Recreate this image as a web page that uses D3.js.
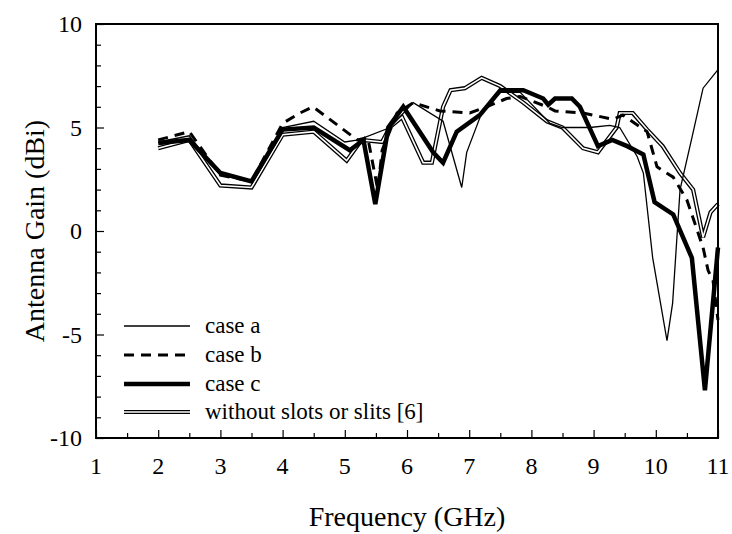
<!DOCTYPE html>
<html>
<head>
<meta charset="utf-8">
<script src="https://cdn.jsdelivr.net/npm/d3@7"></script>
<style>
  body { margin: 0; background: #fff; }
</style>
</head>
<body>
<div id="chart"></div>
<script>
// series data (frequency in GHz, gain in dBi)
var freqA = [2, 2.5, 3, 3.5, 4, 4.5, 5, 5.22, 5.73, 6.1, 6.58, 6.88, 6.96, 7.2, 7.5, 7.82, 8.3, 8.5, 8.94, 9.26, 9.42, 9.7, 9.8, 9.95, 10.18, 10.27, 10.39, 10.58, 10.76, 11];
var gainA = [4.3, 4.6, 2.7, 2.4, 5.0, 5.3, 4.3, 4.4, 5.0, 6.2, 5.3, 2.1, 3.8, 5.7, 6.7, 6.7, 5.2, 5.0, 5.0, 5.1, 5.0, 3.6, 2.8, -1.3, -5.3, -3.5, 2.0, 4.5, 6.9, 7.8];

var freqB = [2, 2.5, 3, 3.5, 4, 4.28, 4.49, 5.2, 5.37, 5.53, 5.6, 5.84, 6.1, 6.53, 7.01, 7.28, 7.6, 7.82, 8.25, 8.38, 8.83, 9.31, 9.47, 9.86, 10.02, 10.28, 10.5, 10.76, 10.84, 10.92, 11];
var gainB = [4.4, 4.8, 2.7, 2.4, 5.2, 5.7, 6.0, 4.4, 4.5, 2.0, 3.9, 5.7, 6.2, 5.8, 5.7, 6.0, 6.4, 6.5, 6.0, 5.8, 5.7, 5.4, 5.6, 4.8, 3.1, 2.6, 1.5, -0.8, -1.9, -2.4, -4.3];

var freqC = [2, 2.5, 3, 3.5, 4, 4.5, 5.08, 5.3, 5.49, 5.7, 5.94, 6.42, 6.58, 6.8, 7.17, 7.5, 7.87, 8.19, 8.27, 8.38, 8.65, 8.78, 9.07, 9.3, 9.54, 9.8, 9.98, 10.28, 10.58, 10.79, 11];
var gainC = [4.25, 4.4, 2.8, 2.4, 4.9, 5.0, 3.9, 4.4, 1.3, 5.0, 6.0, 3.8, 3.3, 4.8, 5.6, 6.8, 6.8, 6.4, 6.1, 6.4, 6.4, 6.0, 4.1, 4.4, 4.1, 3.7, 1.4, 0.8, -1.3, -7.7, -0.8];

var freqD = [2, 2.5, 3, 3.5, 4, 4.5, 5.03, 5.27, 5.6, 5.72, 5.92, 6.26, 6.4, 6.58, 6.7, 6.93, 7.2, 7.5, 7.87, 8.25, 8.5, 8.83, 9.07, 9.37, 9.42, 9.63, 9.86, 10.11, 10.39, 10.6, 10.76, 10.88, 11];
var gainD = [4.0, 4.4, 2.2, 2.1, 4.65, 4.8, 3.4, 4.4, 4.3, 5.0, 5.5, 3.3, 3.3, 6.0, 6.8, 6.9, 7.4, 7.0, 6.2, 5.3, 5.0, 4.0, 3.8, 5.0, 5.7, 5.7, 4.9, 4.1, 2.8, 2.0, -0.3, 0.9, 1.3];

var legendLabels = ["case a", "case b", "case c", "without slots or slits [6]"];
var xTicks = [1, 2, 3, 4, 5, 6, 7, 8, 9, 10, 11];
var yTicks = [-10, -5, 0, 5, 10];

var width = 732, height = 534;
var margin = { left: 96, right: 14, top: 24, bottom: 96 };
var serif = "'Liberation Serif', 'Times New Roman', Times, serif";

var svg = d3.select('#chart').append('svg')
    .attr('width', width)
    .attr('height', height)
    .attr('font-family', serif);

var x = d3.scaleLinear().domain([1, 11]).range([margin.left, width - margin.right]);
var y = d3.scaleLinear().domain([-10, 10]).range([height - margin.bottom, margin.top]);

var line = d3.line()
    .x(function(d) { return x(d[0]); })
    .y(function(d) { return y(d[1]); });

function zip(f, g) {
    return f.map(function(v, i) { return [v, g[i]]; });
}

var plot = svg.append('g');

// without slots: double line (black with white core)
plot.append('path').datum(zip(freqD, gainD))
    .attr('d', line).attr('fill', 'none')
    .attr('stroke', '#000').attr('stroke-width', 4.2);
plot.append('path').datum(zip(freqD, gainD))
    .attr('d', line).attr('fill', 'none')
    .attr('stroke', '#fff').attr('stroke-width', 1.6);

// case a
plot.append('path').datum(zip(freqA, gainA))
    .attr('d', line).attr('fill', 'none')
    .attr('stroke', '#000').attr('stroke-width', 1.3);

// case b
plot.append('path').datum(zip(freqB, gainB))
    .attr('d', line).attr('fill', 'none')
    .attr('stroke', '#000').attr('stroke-width', 3)
    .attr('stroke-dasharray', '10,7');

// case c
plot.append('path').datum(zip(freqC, gainC))
    .attr('d', line).attr('fill', 'none')
    .attr('stroke', '#000').attr('stroke-width', 4.5);

// frame
svg.append('rect')
    .attr('x', x(1)).attr('y', y(10))
    .attr('width', x(11) - x(1)).attr('height', y(-10) - y(10))
    .attr('fill', 'none').attr('stroke', '#000').attr('stroke-width', 2);

// inward ticks
var xAxis = d3.axisBottom(x).tickValues(d3.range(1, 11.01, 0.5))
    .tickSize(-5).tickFormat('');
var gx = svg.append('g').attr('transform', 'translate(0,' + y(-10) + ')').call(xAxis);
gx.select('.domain').remove();
gx.selectAll('.tick line')
    .attr('y2', function(d) { return d % 1 === 0 ? -8 : -5; })
    .attr('stroke-width', 1.2);

var yAxis = d3.axisLeft(y).tickValues(d3.range(-10, 10.01, 1))
    .tickSize(-5).tickFormat('');
var gy = svg.append('g').attr('transform', 'translate(' + x(1) + ',0)').call(yAxis);
gy.select('.domain').remove();
gy.selectAll('.tick line')
    .attr('x2', function(d) { return d % 5 === 0 ? 8 : 5; })
    .attr('stroke-width', 1.2);

// tick labels
svg.selectAll('.xlab').data(xTicks).enter().append('text')
    .attr('x', function(d) { return x(d); })
    .attr('y', y(-10) + 36)
    .attr('text-anchor', 'middle')
    .attr('font-size', 24)
    .text(function(d) { return d; });

svg.selectAll('.ylab').data(yTicks).enter().append('text')
    .attr('x', x(1) - 14)
    .attr('y', function(d) { return y(d) + 8; })
    .attr('text-anchor', 'end')
    .attr('font-size', 24)
    .text(function(d) { return d; });

// axis titles
svg.append('text')
    .attr('x', (x(1) + x(11)) / 2)
    .attr('y', 526)
    .attr('text-anchor', 'middle')
    .attr('font-size', 28)
    .text('Frequency (GHz)');

svg.append('text')
    .attr('transform', 'translate(44,' + y(0) + ') rotate(-90)')
    .attr('text-anchor', 'middle')
    .attr('font-size', 28)
    .text('Antenna Gain (dBi)');

// legend
var legY = [326, 355, 384, 412];
var leg = svg.append('g');
legendLabels.forEach(function(lbl, i) {
    var ly = legY[i];
    if (i === 3) {
        leg.append('line').attr('x1', 124).attr('x2', 190).attr('y1', ly).attr('y2', ly)
            .attr('stroke', '#000').attr('stroke-width', 4.2);
        leg.append('line').attr('x1', 124).attr('x2', 190).attr('y1', ly).attr('y2', ly)
            .attr('stroke', '#fff').attr('stroke-width', 1.6);
    } else {
        var l = leg.append('line').attr('x1', 124).attr('x2', 190).attr('y1', ly).attr('y2', ly)
            .attr('stroke', '#000');
        if (i === 0) l.attr('stroke-width', 1.3);
        if (i === 1) l.attr('stroke-width', 3).attr('stroke-dasharray', '10,7');
        if (i === 2) l.attr('stroke-width', 4.5);
    }
    leg.append('text')
        .attr('x', 205).attr('y', ly + 7)
        .attr('font-size', 23)
        .text(lbl);
});
</script>
</body>
</html>
